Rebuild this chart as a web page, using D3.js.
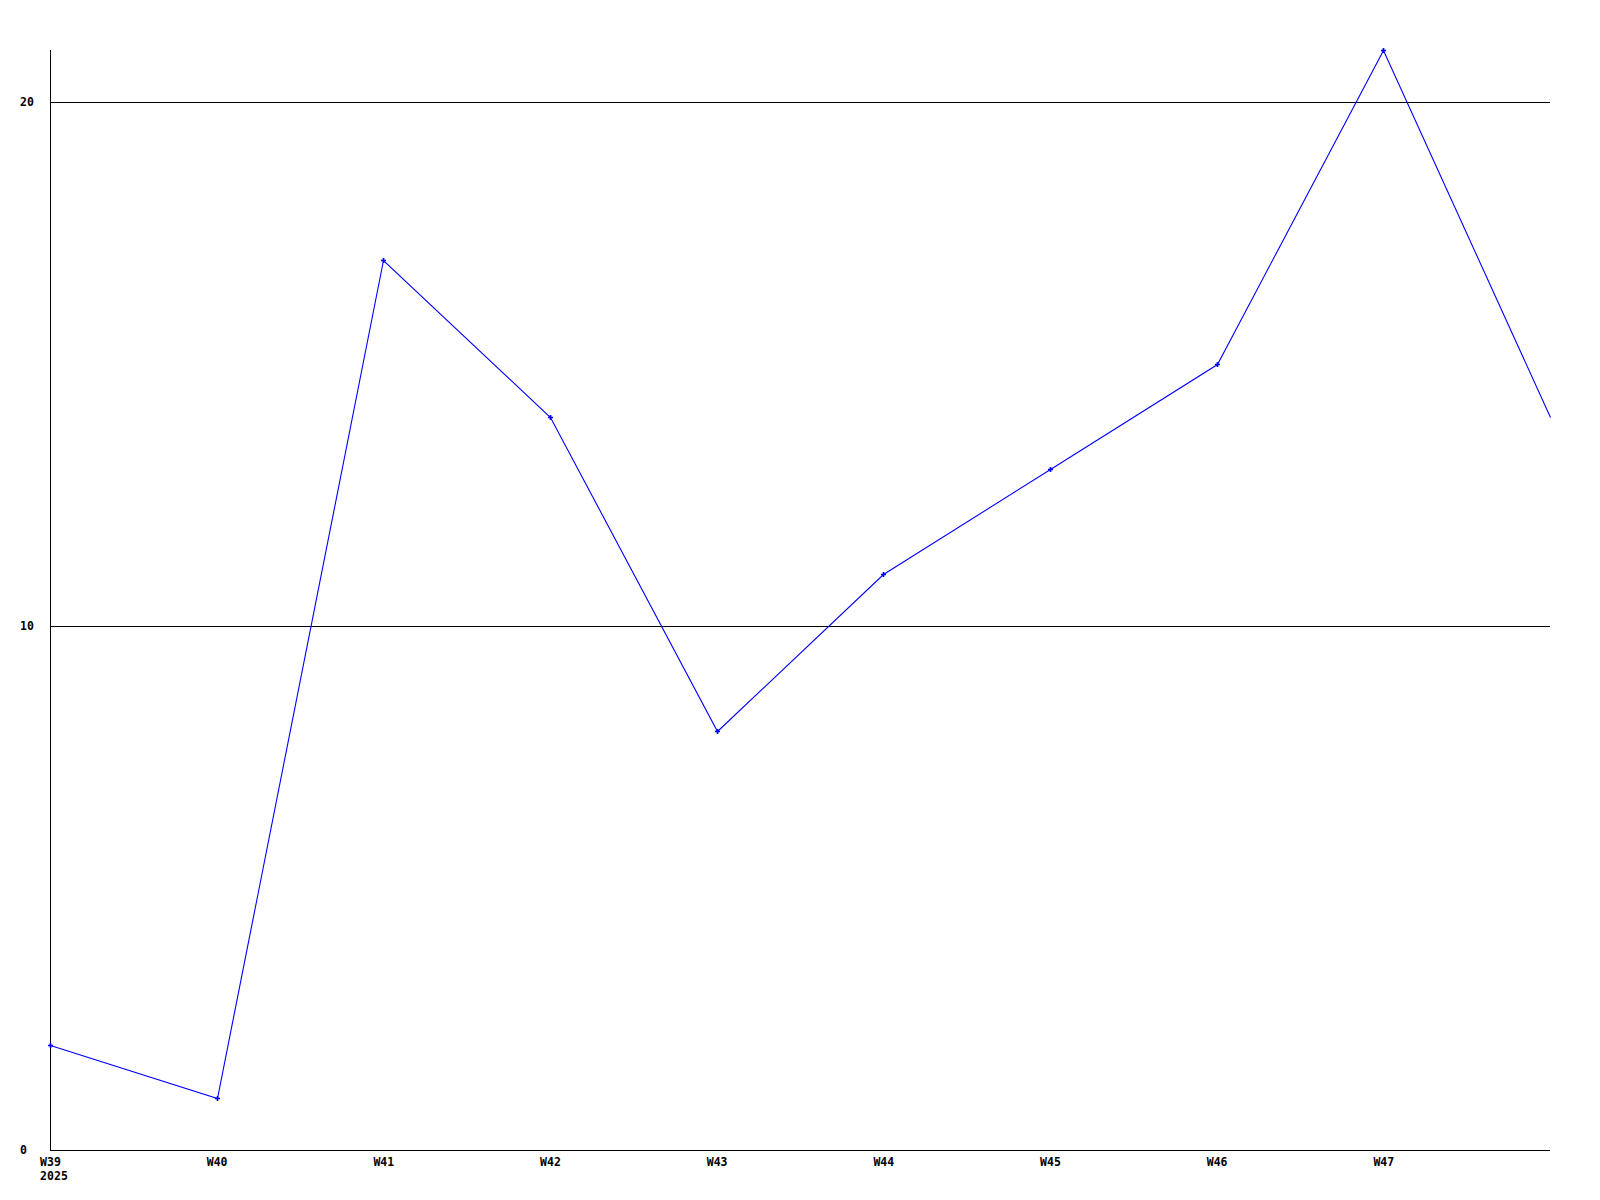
<!DOCTYPE html>
<html>
<head>
<meta charset="utf-8">
<script src="https://cdn.jsdelivr.net/npm/d3@7"></script>
<style>
  body { margin: 0; background: #fff; }
  text { font-family: "DejaVu Sans Mono", "Liberation Mono", monospace; font-weight: bold; font-size: 11.5px; fill: #000; }
</style>
</head>
<body>
<script>
const weeks = [39, 40, 41, 42, 43, 44, 45, 46, 47, 48];
const counts = [2, 1, 17, 14, 8, 11, 13, 15, 21, 14];
const weekLabels = ["W39", "W40", "W41", "W42", "W43", "W44", "W45", "W46", "W47"];
const yearLabel = "2025";
const yTicks = [0, 10, 20];

const margin = {top: 50, right: 50, bottom: 50, left: 50},
      width = 1600 - margin.left - margin.right,
      height = 1200 - margin.top - margin.bottom;

const svg = d3.select("body").append("svg")
              .attr("width", 1600)
              .attr("height", 1200);

const x = d3.scaleLinear().domain([39, 48]).range([margin.left, margin.left + width]);
const y = d3.scaleLinear().domain([0, 21]).range([margin.top + height, margin.top]);
const px = v => Math.round(v) + 0.5;

// horizontal grid lines
svg.selectAll("line.grid")
   .data(yTicks.filter(d => d > 0))
   .enter().append("line")
     .attr("class", "grid")
     .attr("x1", x(39)).attr("x2", x(48))
     .attr("y1", d => px(y(d))).attr("y2", d => px(y(d)))
     .attr("stroke", "#000").attr("stroke-width", 1)
     .attr("shape-rendering", "crispEdges");

// axes
svg.append("line")
   .attr("x1", px(x(39))).attr("x2", px(x(39)))
   .attr("y1", y(21)).attr("y2", px(y(0)))
   .attr("stroke", "#000").attr("shape-rendering", "crispEdges");
svg.append("line")
   .attr("x1", x(39)).attr("x2", x(48))
   .attr("y1", px(y(0))).attr("y2", px(y(0)))
   .attr("stroke", "#000").attr("shape-rendering", "crispEdges");

// y labels
svg.selectAll("text.ylab")
   .data(yTicks)
   .enter().append("text")
     .attr("class", "ylab")
     .attr("x", 20)
     .attr("y", d => y(d))
     .attr("dy", "0.35em")
     .text(d => d);

// x labels
const xl = svg.selectAll("text.xlab")
   .data(weekLabels)
   .enter().append("text")
     .attr("class", "xlab")
     .attr("x", (d, i) => x(weeks[i]) + 0.5)
     .attr("y", y(0) + 12)
     .attr("dy", "0.35em")
     .attr("text-anchor", "middle")
     .text(d => d);

const firstW = xl.node().getComputedTextLength();
svg.append("text")
   .attr("x", x(weeks[0]) + 0.5 - firstW / 2)
   .attr("y", y(0) + 26)
   .attr("dy", "0.35em")
   .text(yearLabel);

// series line
const line = d3.line().x((d, i) => px(x(weeks[i]))).y(d => px(y(d)));
svg.append("path")
   .datum(counts)
   .attr("d", line)
   .attr("fill", "none")
   .attr("stroke", "#0000ff")
   .attr("stroke-width", 1.1);

// point markers
svg.selectAll("path.mark")
   .data(counts.slice(0, 9))
   .enter().append("path")
     .attr("class", "mark")
     .attr("transform", (d, i) => "translate(" + px(x(weeks[i])) + "," + px(y(d)) + ")")
     .attr("d", d3.symbol().type(d3.symbolCross).size(14))
     .attr("fill", "#0000ff");
</script>
</body>
</html>
